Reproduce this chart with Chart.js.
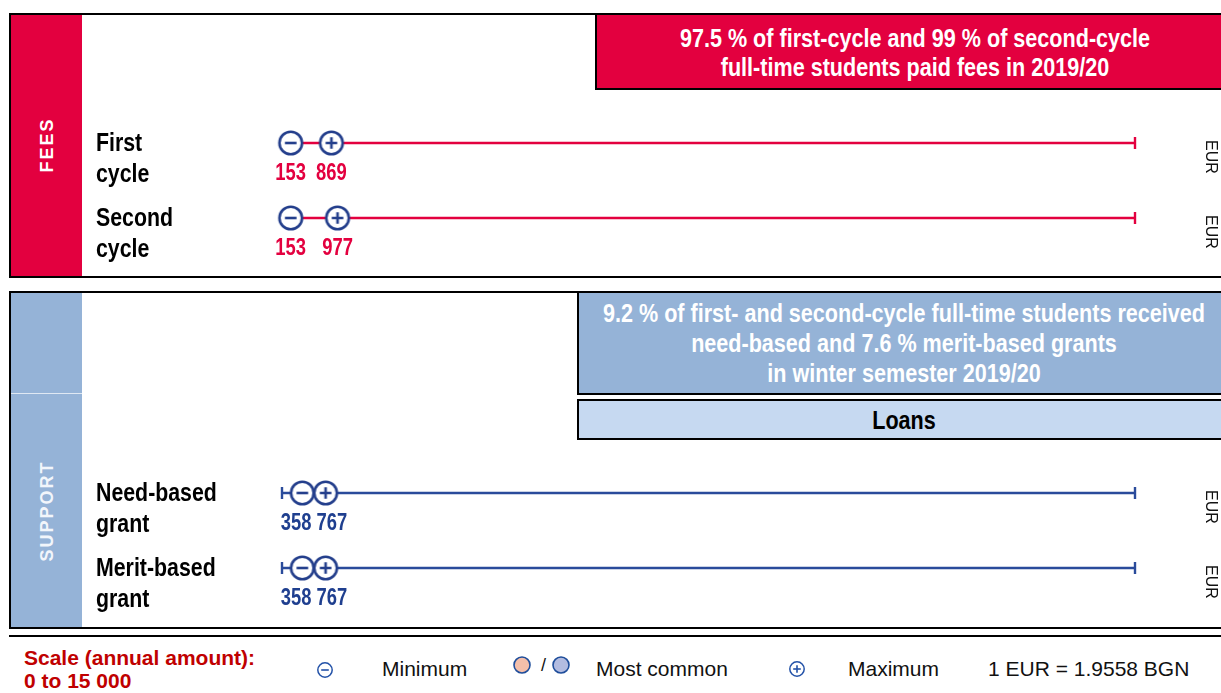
<!DOCTYPE html>
<html>
<head>
<meta charset="utf-8">
<script src="https://cdn.jsdelivr.net/npm/chart.js@4.4.1/dist/chart.umd.min.js"></script>
<style>
  body { margin: 0; width: 1221px; height: 693px; overflow: hidden; position: relative; background: #fff;
         font-family: "Liberation Sans", Arial, sans-serif; }
  .panel { position: absolute; left: 9px; width: 1240px; border: 2px solid #000; box-sizing: border-box; }
  .side { position: absolute; left: 0; top: 0; bottom: 0; width: 71px; }
  .side span { position: absolute; left: 36px; transform: translate(-50%, -50%) rotate(-90deg);
               font-weight: bold; font-size: 18px; letter-spacing: 2px; white-space: nowrap; }
  .callout { position: absolute; border: 2px solid #000; box-sizing: border-box; overflow: hidden; }
  .lines { position: absolute; left: 50%; top: 50%; transform: translate(-50%, -50%) scaleX(0.83);
           white-space: nowrap; text-align: center; font-weight: bold; font-size: 26px; }
  .txt { position: absolute; white-space: nowrap; line-height: 24px; height: 24px; font-size: 21px; color: #111; }
  canvas { position: absolute; left: 0; top: 0; }
</style>
</head>
<body>

<div class="panel" style="top:13px; height:265px;">
  <div class="side" style="background:#E3003F;"><span style="top:130px; color:#fff;">FEES</span></div>
</div>
<div class="callout" style="left:595px; top:13px; width:640px; height:77px; background:#E3003F;">
  <div class="lines" style="color:#fff; line-height:29px; margin-top:1px;">
    97.5 % of first-cycle and 99 % of second-cycle<br>full-time students paid fees in 2019/20
  </div>
</div>

<div class="panel" style="top:291px; height:338px;">
  <div class="side" style="background:#95B3D7;">
    <div style="position:absolute; left:0; width:71px; top:100px; height:1px; background:rgba(255,255,255,0.7);"></div>
    <span style="top:218px; color:#F2F6FB;">SUPPORT</span>
  </div>
</div>
<div class="callout" style="left:577px; top:291px; width:654px; height:104px; background:#95B3D7;">
  <div class="lines" style="color:#fff; line-height:30px;">
    9.2 % of first- and second-cycle full-time students received<br>need-based and 7.6 % merit-based grants<br>in winter semester 2019/20
  </div>
</div>
<div class="callout" style="left:577px; top:399px; width:654px; height:41px; background:#C6D9F1;">
  <div class="lines" style="color:#000; line-height:30px;">Loans</div>
</div>

<div style="position:absolute; left:9px; top:635px; width:1212px; height:2px; background:#000;"></div>

<div class="txt" style="left:24px; top:646px; color:#C00000; font-weight:bold;">Scale (annual amount):</div>
<div class="txt" style="left:24px; top:669px; color:#C00000; font-weight:bold;">0 to 15 000</div>
<svg style="position:absolute; left:316px; top:661px;" width="18" height="18">
  <circle cx="9" cy="9" r="7.2" fill="none" stroke="#2352A8" stroke-width="1.5"/>
  <line x1="5.2" y1="9" x2="12.8" y2="9" stroke="#2352A8" stroke-width="1.6"/>
</svg>
<div class="txt" style="left:382px; top:657px;">Minimum</div>
<svg style="position:absolute; left:511px; top:654px;" width="62" height="22">
  <circle cx="11" cy="11" r="8" fill="#F4BFAA" stroke="#1F4E9B" stroke-width="1.6"/>
  <text x="30" y="17" font-size="18" fill="#111" font-family="Liberation Sans">/</text>
  <circle cx="50" cy="11" r="8" fill="#B3BCE0" stroke="#1F4E9B" stroke-width="1.6"/>
</svg>
<div class="txt" style="left:596px; top:657px;">Most common</div>
<svg style="position:absolute; left:788px; top:660px;" width="18" height="18">
  <circle cx="9" cy="9" r="7.2" fill="none" stroke="#2352A8" stroke-width="1.5"/>
  <line x1="5.2" y1="9" x2="12.8" y2="9" stroke="#2352A8" stroke-width="1.6"/>
  <line x1="9" y1="5.2" x2="9" y2="12.8" stroke="#2352A8" stroke-width="1.6"/>
</svg>
<div class="txt" style="left:848px; top:657px;">Maximum</div>
<div class="txt" style="left:988px; top:657px;">1 EUR = 1.9558 BGN</div>

<canvas id="fees" width="1221" height="693"></canvas>
<canvas id="support" width="1221" height="693"></canvas>

<script>
const scaleMin = 0;
const scaleMax = 15000;

const feeRows = ["First cycle", "Second cycle"];
const feeMin = [153, 153];
const feeMax = [869, 977];

const supportRows = ["Need-based grant", "Merit-based grant"];
const supportMin = [358, 358];
const supportMax = [767, 767];

const SANS = '"Liberation Sans", Arial, sans-serif';
const SQUEEZE = 0.82; // no narrow face installed, so squeeze the regular one

// circle marker with a minus or plus sign, used as point style
function marker(sign, color) {
  const c = document.createElement("canvas");
  c.width = 28;
  c.height = 28;
  const g = c.getContext("2d");
  g.beginPath();
  g.arc(14, 14, 11.3, 0, Math.PI * 2);
  g.fillStyle = "#fff";
  g.fill();
  g.lineWidth = 2.6;
  g.strokeStyle = color;
  g.stroke();
  g.beginPath();
  g.moveTo(8.2, 14);
  g.lineTo(19.8, 14);
  if (sign === "+") {
    g.moveTo(14, 8.2);
    g.lineTo(14, 19.8);
  }
  g.stroke();
  return c;
}

function narrowText(ctx, text, x, y, sq) {
  ctx.save();
  ctx.translate(x, y);
  ctx.scale(sq || SQUEEZE, 1);
  ctx.fillText(text, 0, 0);
  ctx.restore();
}

function rowPlugin(rows, mins, maxs, valueColor) {
  return {
    id: "rowText",
    afterDatasetsDraw(chart) {
      const { ctx, scales: { x, y } } = chart;
      rows.forEach((row, i) => {
        const py = y.getPixelForValue(i);
        const words = row.split(" ");
        ctx.save();
        ctx.fillStyle = "#000";
        ctx.textBaseline = "middle";
        ctx.textAlign = "left";
        ctx.font = "bold 26px " + SANS;
        narrowText(ctx, words[0], 96, py + 1);
        narrowText(ctx, words.slice(1).join(" "), 96, py + 32);

        // values under the markers, pushed apart if they would collide
        const vsq = 0.8;
        ctx.font = "bold 23px " + SANS;
        ctx.fillStyle = valueColor;
        ctx.textAlign = "center";
        const a = x.getPixelForValue(mins[i]);
        const b = x.getPixelForValue(maxs[i]);
        const ta = String(mins[i]), tb = String(maxs[i]);
        const wa = ctx.measureText(ta).width * vsq;
        const wb = ctx.measureText(tb).width * vsq;
        const gap = 5;
        let ca = a, cb = b;
        if (a + wa / 2 + gap > b - wb / 2) {
          const left = (a + b) / 2 - (wa + gap + wb) / 2;
          ca = left + wa / 2;
          cb = left + wa + gap + wb / 2;
        }
        narrowText(ctx, ta, ca, py + 31, vsq);
        narrowText(ctx, tb, cb, py + 31, vsq);

        // currency, rotated
        ctx.translate(1210, py + 14);
        ctx.rotate(Math.PI / 2);
        ctx.font = "16px " + SANS;
        ctx.fillStyle = "#111";
        ctx.fillText("EUR", 0, 0);
        ctx.restore();
      });
    }
  };
}

function buildChart(id, rows, mins, maxs, lineColor, circleColor, valueColor, top, bottom) {
  const minusImg = marker("-", circleColor);
  const plusImg = marker("+", circleColor);

  const datasets = [
    {
      data: rows.map((r, i) => ({ x: maxs[i], y: r })),
      showLine: false,
      pointStyle: plusImg,
      pointRadius: 12,
      order: 0
    },
    {
      data: rows.map((r, i) => ({ x: mins[i], y: r })),
      showLine: false,
      pointStyle: minusImg,
      pointRadius: 12,
      order: 1
    }
  ];
  rows.forEach((r) => {
    datasets.push({
      data: [{ x: scaleMin, y: r }, { x: scaleMax, y: r }],
      borderColor: lineColor,
      borderWidth: 2.4,
      pointStyle: "line",
      rotation: 90,
      pointRadius: 6,
      pointBorderWidth: 2.4,
      pointBorderColor: lineColor,
      order: 2
    });
  });
  datasets.forEach((d) => { d.clip = false; });

  new Chart(document.getElementById(id), {
    type: "line",
    data: { datasets },
    options: {
      responsive: false,
      animation: false,
      events: [],
      layout: { padding: { left: 282, right: 1221 - 1135, top: top, bottom: 693 - bottom } },
      scales: {
        x: { type: "linear", min: scaleMin, max: scaleMax, display: false },
        y: { type: "category", labels: rows, offset: false, display: false }
      },
      plugins: { legend: { display: false }, tooltip: { enabled: false } }
    },
    plugins: [rowPlugin(rows, mins, maxs, valueColor)]
  });
}

buildChart("fees", feeRows, feeMin, feeMax, "#E3003F", "#243F8C", "#E3003F", 143, 218);
buildChart("support", supportRows, supportMin, supportMax, "#2A4B9B", "#243F8C", "#1F3F8F", 493, 568);
</script>
</body>
</html>
